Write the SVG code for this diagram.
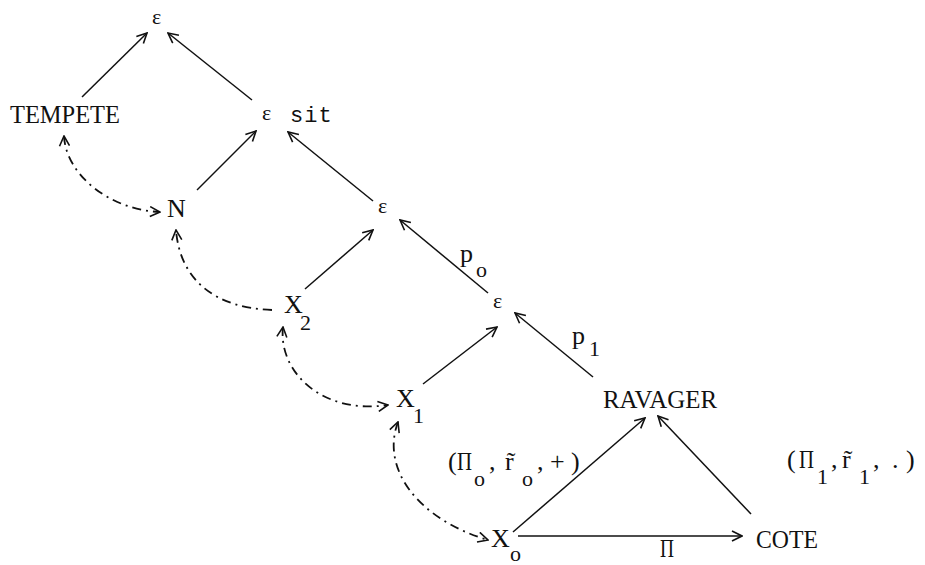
<svg xmlns="http://www.w3.org/2000/svg" width="925" height="565" viewBox="0 0 925 565">
<style>
text{font-family:"Liberation Serif","DejaVu Serif",serif;fill:#111}
.lbl{font-size:26px}
.eps{font-size:22px}
.sub{font-size:22px}
.mono{font-family:"Liberation Mono","DejaVu Sans Mono",monospace;font-size:22px}
.e{stroke:#111;stroke-width:1.5;fill:none}
.d{stroke:#111;stroke-width:1.8;fill:none;stroke-dasharray:9 5 2 5}
</style>
<defs>
<marker id="ah" viewBox="0 0 12 12" refX="11" refY="6" markerWidth="12" markerHeight="12" markerUnits="userSpaceOnUse" orient="auto-start-reverse">
<path d="M1,1 L11,6 L1,11" fill="none" stroke="#111" stroke-width="1.6"/>
</marker>
</defs>
<g id="connectors">
<line class="e" x1="82" y1="97" x2="147" y2="33" marker-end="url(#ah)"/>
<line class="e" x1="252" y1="100" x2="168" y2="33" marker-end="url(#ah)"/>
<line class="e" x1="197" y1="190" x2="256" y2="131" marker-end="url(#ah)"/>
<line class="e" x1="373" y1="201" x2="288" y2="132" marker-end="url(#ah)"/>
<line class="e" x1="305" y1="289" x2="373" y2="230" marker-end="url(#ah)"/>
<line class="e" x1="488" y1="293" x2="400" y2="220" marker-end="url(#ah)"/>
<line class="e" x1="423" y1="384" x2="497" y2="327" marker-end="url(#ah)"/>
<line class="e" x1="593" y1="377" x2="515" y2="313" marker-end="url(#ah)"/>
<line class="e" x1="513" y1="532" x2="645" y2="418" marker-end="url(#ah)"/>
<line class="e" x1="751" y1="514" x2="658" y2="416" marker-end="url(#ah)"/>
<line class="e" x1="518" y1="536" x2="742" y2="536" marker-end="url(#ah)"/>
<path class="d" d="M64 136 C66 175 110 210 160 212" marker-start="url(#ah)" marker-end="url(#ah)"/>
<path class="d" d="M272 310 C215 308 180 280 176 230" marker-end="url(#ah)"/>
<path class="d" d="M283 327 C278 370 320 415 388 405" marker-start="url(#ah)" marker-end="url(#ah)"/>
<path class="d" d="M398 422 C380 470 420 520 488 540" marker-start="url(#ah)" marker-end="url(#ah)"/>
</g>
<g id="eps-top"><text class="eps" x="152" y="24">ε</text></g>
<g id="tempete"><text class="lbl" x="10" y="123" textLength="110" lengthAdjust="spacingAndGlyphs">TEMPETE</text></g>
<g id="eps-sit"><text class="eps" x="262" y="120">ε</text><text class="mono" x="290" y="122" letter-spacing="1">sit</text></g>
<g id="n"><text class="lbl" x="167" y="217">N</text></g>
<g id="eps-mid"><text class="eps" x="378" y="213">ε</text></g>
<g id="eps-low"><text class="eps" x="493" y="308">ε</text></g>
<g id="p0"><text class="lbl" x="460" y="262">p</text><text class="sub" x="476" y="277">o</text></g>
<g id="p1"><text class="lbl" x="572" y="344">p</text><text class="sub" x="589" y="356">1</text></g>
<g id="x2"><text class="lbl" x="284" y="313">X</text><text class="sub" x="300" y="330">2</text></g>
<g id="x1"><text class="lbl" x="396" y="407">X</text><text class="sub" x="413" y="423">1</text></g>
<g id="x0"><text class="lbl" x="491" y="547">X</text><text class="sub" x="510" y="561">o</text></g>
<g id="ravager"><text class="lbl" x="603" y="408" textLength="114" lengthAdjust="spacingAndGlyphs">RAVAGER</text></g>
<g id="cote"><text class="lbl" x="756" y="548" textLength="62" lengthAdjust="spacingAndGlyphs">COTE</text></g>
<g id="lbl-pi"><text class="lbl" x="660" y="557" textLength="14" lengthAdjust="spacingAndGlyphs">Π</text></g>
<g id="lbl-pi0">
<text class="lbl" x="448" y="470">(</text><text class="lbl" x="457" y="470" textLength="15" lengthAdjust="spacingAndGlyphs">Π</text><text class="sub" x="474" y="486">o</text><text class="lbl" x="489" y="470">,</text><text class="lbl" x="505" y="470">r&#x303;</text><text class="sub" x="522" y="486">o</text><text class="lbl" x="537" y="470">,</text><text class="lbl" x="550" y="470">+</text><text class="lbl" x="571" y="470">)</text>
</g>
<g id="lbl-pi1">
<text class="lbl" x="787" y="468">(</text><text class="lbl" x="799" y="468" textLength="15" lengthAdjust="spacingAndGlyphs">Π</text><text class="sub" x="817" y="484">1</text><text class="lbl" x="831" y="468">,</text><text class="lbl" x="842" y="468">r&#x303;</text><text class="sub" x="859" y="484">1</text><text class="lbl" x="873" y="468">,</text><text class="lbl" x="892" y="468">.</text><text class="lbl" x="906" y="468">)</text>
</g>
</svg>
